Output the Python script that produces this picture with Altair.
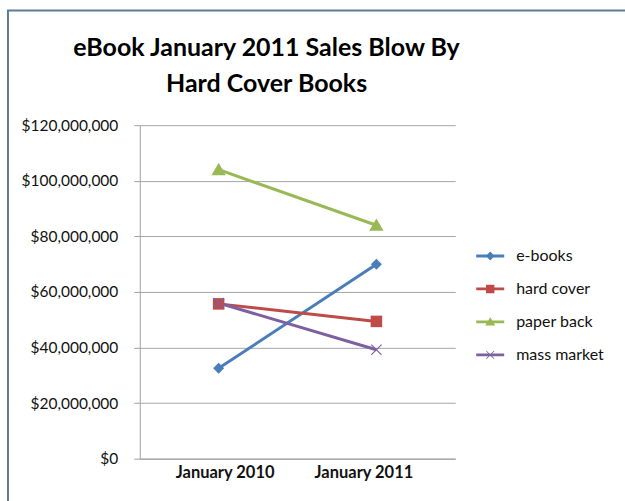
import altair as alt
import pandas as pd

# ---- data ----
periods = ["January 2010", "January 2011"]
series_names = ["e-books", "hard cover", "paper back", "mass market"]
ebooks = [32.5e6, 70.0e6]
hard_cover = [55.7e6, 49.4e6]
paper_back = [104.0e6, 84.0e6]
mass_market = [56.0e6, 39.2e6]
y_ticks = [0, 20e6, 40e6, 60e6, 80e6, 100e6, 120e6]

values_by_series = [ebooks, hard_cover, paper_back, mass_market]
rows = []
for name, vals in zip(series_names, values_by_series):
    for p, v in zip(periods, vals):
        rows.append({"series": name, "period": p, "sales": v})
df = pd.DataFrame(rows)

# ---- styles ----
colors = ["#4A7EBB", "#BE4B48", "#98B954", "#7D60A0"]
marker_paths = {
    "e-books": "M0,-1 L1,0 L0,1 L-1,0 Z",
    "hard cover": "M-1.05,-1.05 L1.05,-1.05 L1.05,1.05 L-1.05,1.05 Z",
    "paper back": "M0,-1.25 L1.3,1 L-1.3,1 Z",
    "mass market": "M-1,-0.85 L-0.85,-1 L0,-0.15 L0.85,-1 L1,-0.85 L0.15,0 L1,0.85 L0.85,1 L0,0.15 L-0.85,1 L-1,0.85 L-0.15,0 Z",
}
bar = "M-1,-0.1 L1,-0.1 L1,0.1 L-1,0.1 Z "
legend_paths = [
    bar + "M0,-0.32 L0.32,0 L0,0.32 L-0.32,0 Z",
    bar + "M-0.3,-0.3 L0.3,-0.3 L0.3,0.3 L-0.3,0.3 Z",
    bar + "M0,-0.33 L0.36,0.26 L-0.36,0.26 Z",
    bar + "M-0.3,-0.26 L-0.26,-0.3 L0,-0.04 L0.26,-0.3 L0.3,-0.26 L0.04,0 L0.3,0.26 L0.26,0.3 L0,0.04 L-0.26,0.3 L-0.3,0.26 L-0.04,0 Z",
]
df["marker"] = df["series"].map(marker_paths)

FONT = "Lato"
color_scale = alt.Scale(domain=series_names, range=colors)

x_enc = alt.X(
    "period:N",
    sort=periods,
    scale=alt.Scale(paddingInner=0, paddingOuter=0),
    axis=alt.Axis(
        title=None, labelAngle=0, ticks=False, labelFontWeight="bold",
        labelFont=FONT, labelFontSize=16.5, labelColor="#111111",
        labelPadding=6, domainColor="#A0A0A0", grid=False,
        labelOffset={"condition": {"test": "datum.label == 'January 2010'", "value": 6}, "value": -13},
    ),
)
y_enc = alt.Y(
    "sales:Q",
    scale=alt.Scale(domain=[0, 120e6], nice=False),
    axis=alt.Axis(
        title=None, values=y_ticks, format="$,.0f", labelFont=FONT,
        labelFontSize=15.5, labelColor="#111111", labelPadding=16,
        tickSize=6, tickColor="#A0A0A0", domainColor="#A0A0A0",
        gridColor="#A6A6A6", gridWidth=1,
    ),
)

legend_props = dict(
    title=None, orient="none", legendX=337, legendY=117,
    symbolSize=784, symbolStrokeWidth=0, labelFont=FONT,
    labelFontSize=16, labelColor="#111111", labelOffset=12,
    rowPadding=11, padding=0, symbolOpacity=1,
)

lines = alt.Chart(df).mark_line(strokeWidth=3).encode(
    x=x_enc, y=y_enc,
    color=alt.Color("series:N", scale=color_scale),
    detail="series:N",
)

points = alt.Chart(df).mark_point(filled=True, size=121, opacity=1, strokeWidth=0).encode(
    x=x_enc, y=y_enc,
    color=alt.Color("series:N", scale=color_scale),
    shape=alt.Shape("marker:N", scale=None),
)

legend_layer = alt.Chart(df).transform_filter("false").mark_point(
    filled=True, size=784, opacity=1, strokeWidth=0
).encode(
    x=x_enc, y=y_enc,
    color=alt.Color("series:N", scale=color_scale, legend=alt.Legend(**legend_props)),
    shape=alt.Shape(
        "series:N",
        scale=alt.Scale(domain=series_names, range=legend_paths),
        legend=alt.Legend(**legend_props),
    ),
)

frame_data = alt.Data(values=[{"k": 1}])
left_border = alt.Chart(frame_data).mark_rule(color="#5F7C96", strokeWidth=2).encode(
    x=alt.value(-132), y=alt.value(-115), y2=alt.value(400)
)
top_border = alt.Chart(frame_data).mark_rule(color="#5F7C96", strokeWidth=2).encode(
    x=alt.value(-133), x2=alt.value(490), y=alt.value(-115)
)

chart = alt.layer(
    lines, points, legend_layer, left_border, top_border
).properties(
    width=316,
    height=334,
    title=alt.TitleParams(
        text=["eBook January 2011 Sales Blow By", "Hard Cover Books"],
        font=FONT, fontSize=25, fontWeight="bold", color="#000000",
        anchor="middle", dx=-31, lineHeight=36, offset=-113, baseline="bottom",
    ),
    autosize=alt.AutoSizeParams(type="none"),
    padding={"left": 140, "top": 125, "right": 170, "bottom": 42},
).configure(
    background="white",
    view=alt.ViewConfig(stroke=None),
)

chart.save("out.html", embed_options={"renderer": "svg", "actions": False})
